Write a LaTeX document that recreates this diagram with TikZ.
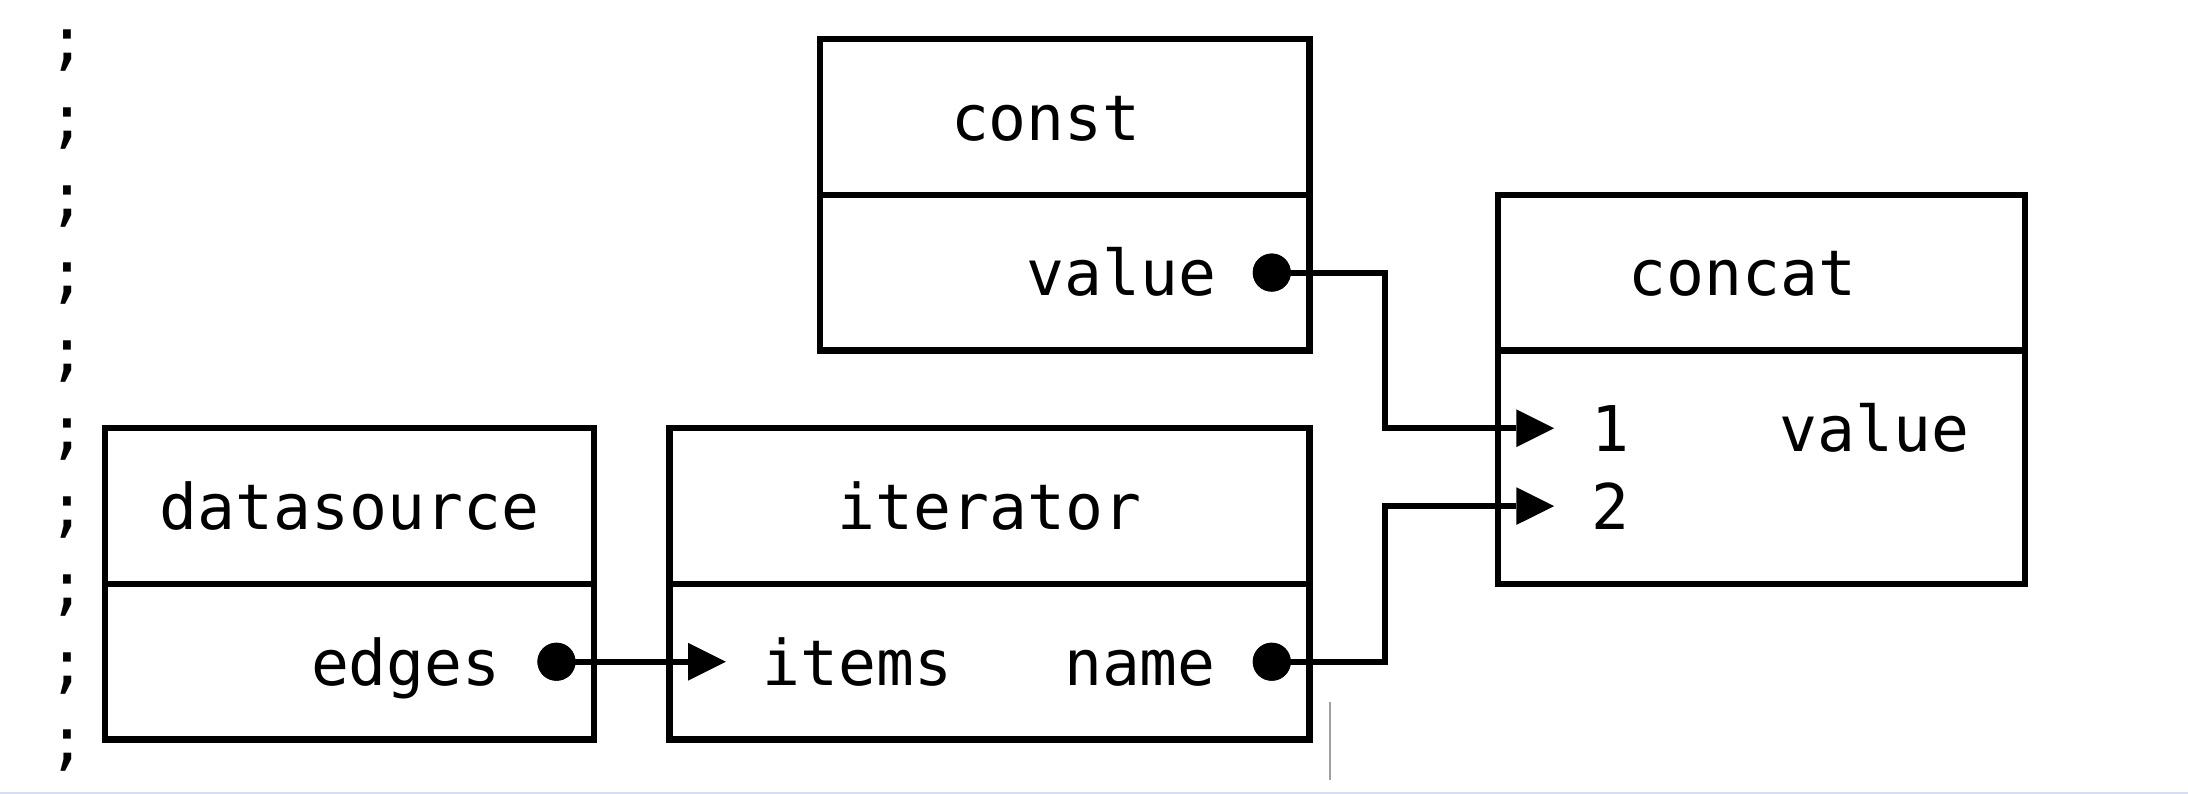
\documentclass[tikz,border=0pt]{standalone}
\usepackage{fontspec}
\setmonofont{DejaVu Sans Mono}
\usetikzlibrary{fit}
\definecolor{cursorgray}{HTML}{A0A0A0}
\definecolor{edgeblue}{HTML}{D3DFF5}
\begin{document}
\begin{tikzpicture}[
  x=37.647pt, y=-77.83pt,
  line width=6.2pt, line join=miter,
  txt/.style={font=\ttfamily\fontsize{63}{78}\selectfont, inner sep=0pt, outer sep=0pt, anchor=base, yshift=-23.3pt},
  boxnode/.style={draw, rectangle, inner sep=0pt, outer sep=0pt},
  portdot/.style={circle, fill, draw=none, inner sep=0pt, outer sep=0pt, minimum size=38pt},
  wire/.style={line width=6pt, line join=miter},
  tipfill/.style={fill, draw=none}
]
\useasboundingbox (0pt,0pt) rectangle (2188pt,-794pt);
\fill[white] (0pt,0pt) rectangle (2188pt,-794pt);
\fill[edgeblue] (0pt,-791.5pt) rectangle (2188pt,-794pt);
\begin{scope}[shift={(48.23pt,-39.1pt)}]
  % left column of semicolons
  \foreach \r in {0,...,9} {
    \node[txt] (semi\r) at (0.5,\r) {;};
  }
  % boxes
  \node[boxnode, fit={(1.5,5) (14.5,9)}] (ds) {};
  \node[boxnode, fit={(16.5,5) (33.5,9)}] (it) {};
  \node[boxnode, fit={(20.5,0) (33.5,4)}] (cs) {};
  \node[boxnode, fit={(38.5,2) (52.5,7)}] (cc) {};
  % dividers
  \draw (ds.west |- 0,7) -- (ds.east |- 0,7);
  \draw (it.west |- 0,7) -- (it.east |- 0,7);
  \draw (cs.west |- 0,2) -- (cs.east |- 0,2);
  \draw (cc.west |- 0,4) -- (cc.east |- 0,4);
  % texts
  \node[txt] (dsT) at (8,6) {datasource};
  \node[txt] (dsE) at (9.5,8) {edges};
  \node[txt] (itT) at (25,6) {iterator};
  \node[txt] (itI) at (21.5,8) {items};
  \node[txt] (itN) at (29,8) {name};
  \node[txt] (csT) at (26.5,1) {const};
  \node[txt] (csV) at (28.5,3) {value};
  \node[txt] (ccT) at (45,3) {concat};
  \node[txt] (cc1) at (41.5,5) {1};
  \node[txt] (cc2) at (41.5,6) {2};
  \node[txt] (ccV) at (48.5,5) {value};
  % output dots
  \node[portdot] (dEdges) at (13.5,8) {};
  \node[portdot] (dName) at (32.5,8) {};
  \node[portdot] (dValue) at (32.5,3) {};
  % input ports (arrow base and tip)
  \coordinate (bItems) at (17,8);
  \coordinate (tItems) at (18,8);
  \coordinate (bOne) at (39,5);
  \coordinate (tOne) at (40,5);
  \coordinate (bTwo) at (39,6);
  \coordinate (tTwo) at (40,6);
  % wires
  \draw[wire] (dEdges.center) -- (bItems);
  \draw[wire] (dValue.center) -- (35.5,3) -- (35.5,5) -- (bOne);
  \draw[wire] (dName.center) -- (35.5,8) -- (35.5,6) -- (bTwo);
  % arrow heads
  \fill[tipfill] ([yshift=18.8pt]bItems) -- (tItems) -- ([yshift=-18.8pt]bItems) -- cycle;
  \fill[tipfill] ([yshift=18.8pt]bOne) -- (tOne) -- ([yshift=-18.8pt]bOne) -- cycle;
  \fill[tipfill] ([yshift=18.8pt]bTwo) -- (tTwo) -- ([yshift=-18.8pt]bTwo) -- cycle;
  % redraw dots over wires
  \fill (dEdges) circle[radius=19pt];
  \fill (dName) circle[radius=19pt];
  \fill (dValue) circle[radius=19pt];
  % text cursor
  \coordinate (curTop) at (34,8.5);
  \coordinate (curBot) at (34,9.5);
  \draw[cursorgray, line width=2pt] ([xshift=1.5pt,yshift=-1pt]curTop) -- ([xshift=1.5pt,yshift=-2pt]curBot);
\end{scope}
\end{tikzpicture}
\end{document}
